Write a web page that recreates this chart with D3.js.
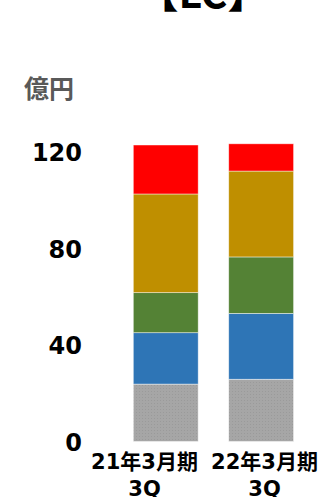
<!DOCTYPE html>
<html>
<head>
<meta charset="utf-8">
<script src="https://cdn.jsdelivr.net/npm/d3@7"></script>
<style>
  html, body { margin: 0; padding: 0; background: #fff; }
  svg { display: block; }
</style>
</head>
<body>
<svg id="chart" width="324" height="497"></svg>
<script>
const categories = ["21年3月期|3Q", "22年3月期|3Q"];
const seriesNames = ["s1", "s2", "s3", "s4", "s5"];
const s1 = [23.8, 25.8];   // gray (bottom)
const s2 = [21.3, 27.3];   // blue
const s3 = [16.6, 23.4];   // green
const s4 = [40.9, 35.6];   // gold
const s5 = [20.3, 11.3];   // red (top)
const yTicks = [0, 40, 80, 120];
const title = "【LC】";
const unitLabel = "億円";

const colors = { s1: "url(#grayDots)", s2: "#2E75B6", s3: "#548235", s4: "#BF8F00", s5: "#FF0000" };

const rows = categories.map((c, i) => ({ cat: c, s1: s1[i], s2: s2[i], s3: s3[i], s4: s4[i], s5: s5[i] }));
const stacked = d3.stack().keys(seriesNames)(rows);

const svg = d3.select("#chart");
const defs = svg.append("defs");
const pat = defs.append("pattern").attr("id", "grayDots").attr("width", 3).attr("height", 3)
  .attr("patternUnits", "userSpaceOnUse");
pat.append("rect").attr("width", 3).attr("height", 3).attr("fill", "#A6A6A6");
pat.append("rect").attr("x", 1).attr("y", 1).attr("width", 1).attr("height", 1).attr("fill", "#9A9A9A");

const y = d3.scaleLinear().domain([0, 120]).range([441.5, 152]);
const x = d3.scaleBand().domain(categories).range([133.3, 293.6]).paddingInner(0.32).paddingOuter(0);
const xLabel = d3.scalePoint().domain(categories).range([144.5, 264.5]);

const font = "'DejaVu Sans', 'Noto Sans CJK JP', sans-serif";

// title (cropped at top)
svg.append("text").attr("x", 203).attr("y", 8).attr("text-anchor", "middle")
  .attr("font-family", "'Noto Sans CJK JP', sans-serif").attr("font-weight", "bold")
  .attr("font-size", 41).attr("fill", "#000").text(title);

// unit label
svg.append("text").attr("x", 24).attr("y", 98)
  .attr("font-family", "'Noto Sans CJK JP', sans-serif").attr("font-weight", "bold")
  .attr("font-size", 25).attr("fill", "#595959").text(unitLabel);

// y axis labels
const yAxis = d3.axisLeft(y).tickValues(yTicks).tickSize(0).tickPadding(0);
const gy = svg.append("g").attr("transform", "translate(82,1)").call(yAxis);
gy.select(".domain").remove();
gy.selectAll("text").attr("font-family", font).attr("font-weight", "bold")
  .attr("font-size", 24).attr("fill", "#000");

// bars
svg.append("g").selectAll("g").data(stacked).join("g")
  .attr("fill", d => colors[d.key])
  .selectAll("rect").data(d => d).join("rect")
  .attr("x", d => x(d.data.cat))
  .attr("width", x.bandwidth())
  .attr("y", d => y(d[1]))
  .attr("height", d => y(d[0]) - y(d[1]))
  .attr("stroke", "#ffffff").attr("stroke-opacity", 0.6).attr("stroke-width", 0.75);

// category labels
const gx = svg.append("g");
categories.forEach(c => {
  const lines = c.split("|");
  const t = gx.append("text").attr("x", xLabel(c)).attr("y", 469)
    .attr("text-anchor", "middle").attr("font-family", font).attr("font-weight", "bold")
    .attr("font-size", 21).attr("fill", "#000");
  lines.forEach((l, i) => {
    t.append("tspan").attr("x", xLabel(c)).attr("dy", i === 0 ? 0 : 27).text(l);
  });
});
</script>
</body>
</html>
